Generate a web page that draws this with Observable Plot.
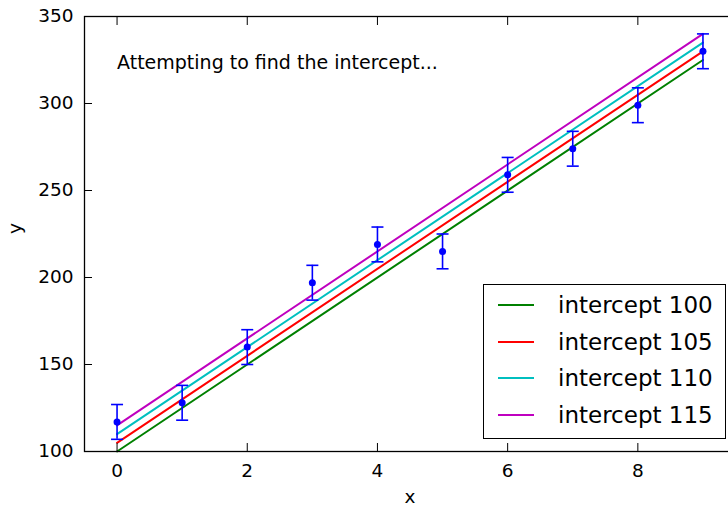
<!DOCTYPE html>
<html>
<head>
<meta charset="utf-8">
<script src="https://cdn.jsdelivr.net/npm/d3@7"></script>
<script src="https://cdn.jsdelivr.net/npm/@observablehq/plot@0.6"></script>
<style>
  html, body { margin: 0; padding: 0; background: white; }
  #wrap { position: relative; width: 728px; height: 506px; overflow: hidden; }
  #legend {
    position: absolute; left: 483px; top: 284px; width: 243px; height: 155px;
    box-sizing: border-box; border: 1.5px solid #000; background: white;
    font-family: "DejaVu Sans", sans-serif; font-size: 23px; color: #000;
  }
  .row { position: absolute; left: 0; height: 30px; display: flex; align-items: center; }
  .swatch { position: absolute; left: 14px; width: 36px; height: 2px; }
  .lab { position: absolute; left: 74px; white-space: nowrap; }
</style>
</head>
<body>
<div id="wrap"></div>
<script>
// ---- data ----
const xs = [0, 1, 2, 3, 4, 5, 6, 7, 8, 9];
const ys = [117, 128, 160, 197, 219, 215, 259, 274, 299, 330];
const err = 10;
const intercepts = [100, 105, 110, 115];
const slope = 25;
const lineColors = ["#008000", "#ff0000", "#00bfbf", "#bf00bf"];
const seriesLabels = intercepts.map(b => `intercept ${b}`);
const xTicks = [0, 2, 4, 6, 8];
const yTicks = [100, 150, 200, 250, 300, 350];
const annotation = "Attempting to find the intercept...";
const annoX = 0, annoY = 320;

// ---- derived tables ----
const points = xs.map((x, i) => ({x, y: ys[i]}));
const lineData = [];
intercepts.forEach((b, k) => {
  [xs[0], xs[xs.length - 1]].forEach(x => lineData.push({x, y: b + slope * x, s: seriesLabels[k]}));
});
const caps = points.flatMap(d => [{x: d.x, y: d.y - err}, {x: d.x, y: d.y + err}]);
const capSymbol = {
  draw(ctx, size) {
    const w = Math.sqrt(size / Math.PI);
    ctx.moveTo(-w, 0); ctx.lineTo(w, 0);
  }
};

const chart = Plot.plot({
  width: 728, height: 506,
  marginLeft: 84, marginRight: -7, marginTop: 16, marginBottom: 55,
  x: {domain: [-0.5, 9.5]},
  y: {domain: [100, 350]},
  color: {type: "ordinal", domain: seriesLabels, range: lineColors},
  style: {fontFamily: "DejaVu Sans, sans-serif", fontSize: "18.5px", color: "#000", background: "white"},
  marks: [
    Plot.line(lineData, {x: "x", y: "y", z: "s", stroke: "s", strokeWidth: 2}),
    Plot.ruleX(points, {x: "x", y1: d => d.y - err, y2: d => d.y + err, stroke: "#0000ff", strokeWidth: 1.6}),
    Plot.dot(caps, {x: "x", y: "y", symbol: capSymbol, r: 6, stroke: "#0000ff", strokeWidth: 1.6}),
    Plot.dot(points, {x: "x", y: "y", r: 3.5, fill: "#0000ff", stroke: null}),
    Plot.text([annotation], {x: () => annoX, y: () => annoY, text: d => d, textAnchor: "start", fontSize: 19, dy: -6, fill: "#000"}),
    Plot.frame({stroke: "#000", strokeWidth: 1.3}),
    Plot.axisX({anchor: "bottom", ticks: xTicks, tickSize: -8, tickPadding: 20, label: null, stroke: "#000"}),
    Plot.axisX({anchor: "top", ticks: xTicks, tickSize: -8, tickFormat: () => "", label: null, stroke: "#000"}),
    Plot.axisY({anchor: "left", ticks: yTicks, tickSize: -8, tickPadding: 19, label: null, stroke: "#000"}),
    Plot.axisY({anchor: "right", ticks: yTicks, tickSize: -8, tickFormat: () => "", label: null, stroke: "#000"}),
    Plot.text(["x"], {frameAnchor: "bottom", dy: 51, fill: "#000"}),
    Plot.text(["y"], {frameAnchor: "left", dx: -69, rotate: -90, fill: "#000"})
  ]
});

const wrap = document.getElementById("wrap");
wrap.appendChild(chart);

// legend
const legend = document.createElement("div");
legend.id = "legend";
const rowCenters = [20, 56.5, 93, 130];
seriesLabels.forEach((lab, i) => {
  const row = document.createElement("div");
  row.className = "row";
  row.style.top = (rowCenters[i] - 15) + "px";
  row.style.width = "100%";
  const sw = document.createElement("div");
  sw.className = "swatch";
  sw.style.background = lineColors[i];
  sw.style.top = "14px";
  const t = document.createElement("div");
  t.className = "lab";
  t.textContent = lab;
  row.appendChild(sw);
  row.appendChild(t);
  legend.appendChild(row);
});
wrap.appendChild(legend);
</script>
</body>
</html>
